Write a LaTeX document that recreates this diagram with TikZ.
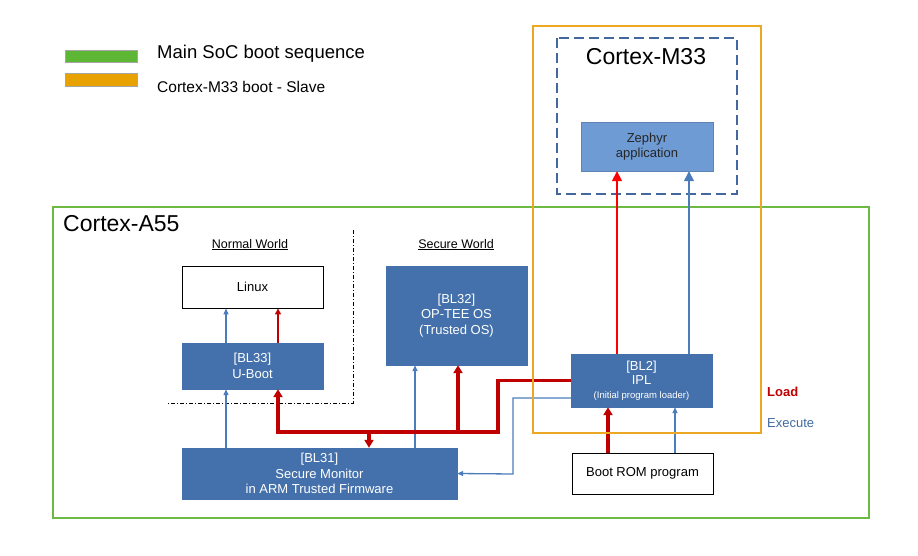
\documentclass[tikz,border=0pt]{standalone}
\usepackage{fontspec}
\setmainfont{Liberation Sans}
\usepackage{tikz}
\usetikzlibrary{arrows.meta}

\definecolor{socgreen}{HTML}{6CB943}
\definecolor{legendgreen}{HTML}{5DB734}
\definecolor{slaveorange}{HTML}{ECA823}
\definecolor{legendorange}{HTML}{E8A202}
\definecolor{fwblue}{HTML}{4471AB}
\definecolor{appblue}{HTML}{6E9BD3}
\definecolor{edgeblue}{HTML}{44679F}
\definecolor{execblue}{HTML}{4A7DBA}
\definecolor{loadred}{HTML}{C00000}
\definecolor{brightred}{HTML}{FF0000}

\begin{document}
\begin{tikzpicture}[x=1pt, y=-1pt,
    fwbox/.style={draw=fwblue, fill=fwblue, text=white, align=center, minimum width=141pt, inner sep=0pt, font=\fontsize{13}{15.5}\selectfont},
    plainbox/.style={draw=black, fill=white, line width=0.9pt, align=center, minimum width=141pt, inner sep=0pt, font=\fontsize{13}{15.5}\selectfont},
    swatch/.style={draw=gray!70, line width=0.6pt, minimum width=72pt, minimum height=12pt, inner sep=0pt},
    plaintext/.style={inner sep=0pt},
    exec/.style={execblue, line width=1.3pt, -{Triangle[length=6pt, width=5pt]}},
    load/.style={loadred, line width=3.5pt, -{Triangle[length=8pt, width=9pt]}}]
    \useasboundingbox (0,0) rectangle (918,556);

    % Legend
    \node[swatch, fill=legendgreen] (mainkey) at (101,56) {};
    \node[swatch, fill=legendorange, minimum height=13pt] (slavekey) at (101,79.5) {};
    \node[plaintext, anchor=base west, font=\fontsize{18.5}{20}\selectfont] (maintext) at (157,59) {Main SoC boot sequence};
    \node[plaintext, anchor=base west, font=\fontsize{15.5}{18}\selectfont] (slavetext) at (157,93) {Cortex-M33 boot - Slave};

    % Cortex-A55 and Cortex-M33 frames
    \draw[socgreen, line width=2pt] (53,207) rectangle (869,518);
    \draw[edgeblue, line width=2pt, dash pattern=on 10pt off 5pt] (557,38) rectangle (737,194);
    \node[plaintext, anchor=base west, font=\fontsize{23}{26}\selectfont] (a55title) at (63,232) {Cortex-A55};
    \node[plaintext, anchor=base, font=\fontsize{23}{26}\selectfont] (m33title) at (646,65) {Cortex-M33};

    % Normal world boundary
    \draw[black, line width=0.8pt, dash pattern=on 4pt off 2pt on 1pt off 2pt] (353,230) -- (353,403) -- (168,403);
    \node[plaintext, anchor=base, font=\fontsize{12.5}{14}\selectfont] (normalworld) at (250,248) {\underline{Normal World}};
    \node[plaintext, anchor=base, font=\fontsize{12.5}{14}\selectfont] (secureworld) at (456,248) {\underline{Secure World}};

    % Boot stages
    \node[fwbox, fill=appblue, draw=appblue!85!black, text=black!85, minimum width=132pt, minimum height=49pt] (zephyr) at (647,146.5) {Zephyr\\application};
    \node[plainbox, minimum height=42pt] (linux) at (252.5,287) {Linux};
    \node[fwbox, minimum height=46pt] (bl33) at (252.5,366) {[BL33]\\U-Boot};
    \node[fwbox, minimum height=99pt] (bl32) at (456.5,315.5) {[BL32]\\OP-TEE OS\\(Trusted OS)};
    \node[fwbox, minimum width=275pt, minimum height=51pt] (bl31) at (319.5,473.5) {[BL31]\\Secure Monitor\\in ARM Trusted Firmware};
    \node[fwbox, minimum height=53pt, font=\fontsize{13}{14}\selectfont] (bl2) at (641.5,380.5) {[BL2]\\IPL\\{\fontsize{9.5}{11}\selectfont (Initial program loader)}};
    \node[plainbox, minimum height=41pt] (rom) at (642.5,473.5) {Boot ROM program};

    % Columns and corners of the connectors
    \coordinate (uExec) at (226,0);
    \coordinate (uLoad) at (278,0);
    \coordinate (mLoad) at (369,0);
    \coordinate (tExec) at (415,0);
    \coordinate (tLoad) at (458,0);
    \coordinate (busCorner) at (498,432);
    \coordinate (execCorner) at (513,474);
    \coordinate (rLoad) at (608,0);
    \coordinate (rExec) at (675,0);
    \coordinate (zLoad) at (617,0);
    \coordinate (zExec) at (689,0);

    % U-Boot loads and runs Linux
    \draw[exec] (bl33.north -| uExec) -- (linux.south -| uExec);
    \draw[loadred, line width=2pt, -{Triangle[length=6pt, width=6pt]}] (bl33.north -| uLoad) -- (linux.south -| uLoad);

    % Secure monitor runs BL33 and BL32
    \draw[exec] (bl31.north -| uExec) -- (bl33.south -| uExec);
    \draw[exec] (bl31.north -| tExec) -- (bl32.south -| tExec);

    % IPL loads BL31, BL32 and BL33
    \draw[load] (bl2.west) -| (busCorner) -| (bl33.south -| uLoad);
    \draw[load] (busCorner -| tLoad) -- (bl32.south -| tLoad);
    \draw[load] (busCorner -| mLoad) -- (bl31.north -| mLoad);
    \draw[exec] ([yshift=-17.5pt]bl2.west) -| (execCorner) -- (bl31.east);

    % Boot ROM loads and runs IPL
    \draw[load] (rom.north -| rLoad) -- (bl2.south -| rLoad);
    \draw[exec] (rom.north -| rExec) -- (bl2.south -| rExec);

    % IPL starts the Cortex-M33
    \draw[brightred, line width=1.5pt, -{Triangle[length=10pt, width=10pt]}] (bl2.north -| zLoad) -- (zephyr.south -| zLoad);
    \draw[execblue, line width=1.3pt, -{Triangle[length=10pt, width=10pt]}] (bl2.north -| zExec) -- (zephyr.south -| zExec);

    % Cortex-M33 boot frame
    \draw[slaveorange, line width=2pt] (533,26) rectangle (761,433);

    % Line key
    \node[plaintext, anchor=base west, text=loadred, font=\bfseries\fontsize{13}{15}\selectfont] (loadkey) at (767,396) {Load};
    \node[plaintext, anchor=base west, text=execblue!85!black, font=\fontsize{13}{15}\selectfont] (execkey) at (767,427) {Execute};
\end{tikzpicture}
\end{document}
